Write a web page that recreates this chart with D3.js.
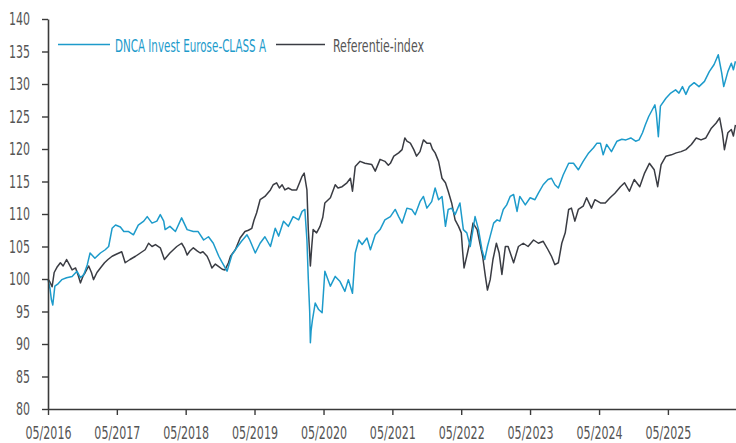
<!DOCTYPE html>
<html>
<head>
<meta charset="utf-8">
<script src="https://cdn.jsdelivr.net/npm/d3@7"></script>
<style>
  html, body { margin: 0; padding: 0; background: #fff; }
  svg text { font-family: "Liberation Sans Narrow", "DejaVu Sans Condensed", "Roboto", sans-serif; }
</style>
</head>
<body>
<svg width="736" height="443"></svg>
<script>
// dates are decimal years
const fundYears = [2016.33,2016.36,2016.38,2016.40,2016.43,2016.48,2016.53,2016.60,2016.68,2016.75,2016.80,2016.85,2016.90,2016.94,2017.01,2017.09,2017.16,2017.21,2017.26,2017.31,2017.38,2017.43,2017.50,2017.57,2017.64,2017.72,2017.77,2017.84,2017.91,2017.96,2018.01,2018.03,2018.10,2018.18,2018.27,2018.35,2018.44,2018.51,2018.59,2018.66,2018.73,2018.81,2018.85,2018.93,2019.00,2019.07,2019.14,2019.22,2019.26,2019.34,2019.41,2019.48,2019.56,2019.63,2019.68,2019.75,2019.82,2019.89,2019.97,2020.02,2020.06,2020.09,2020.11,2020.13,2020.14,2020.15,2020.17,2020.21,2020.26,2020.31,2020.35,2020.43,2020.50,2020.57,2020.64,2020.69,2020.75,2020.79,2020.84,2020.89,2020.96,2021.01,2021.08,2021.15,2021.22,2021.30,2021.37,2021.42,2021.47,2021.54,2021.61,2021.66,2021.73,2021.78,2021.83,2021.90,2021.95,2022.00,2022.05,2022.10,2022.14,2022.19,2022.24,2022.31,2022.36,2022.41,2022.46,2022.50,2022.53,2022.58,2022.63,2022.67,2022.71,2022.75,2022.80,2022.85,2022.89,2022.94,2022.99,2023.04,2023.09,2023.14,2023.18,2023.26,2023.33,2023.40,2023.45,2023.52,2023.59,2023.64,2023.69,2023.74,2023.81,2023.89,2023.96,2024.03,2024.10,2024.18,2024.25,2024.30,2024.35,2024.39,2024.44,2024.51,2024.59,2024.66,2024.72,2024.79,2024.86,2024.91,2024.96,2025.00,2025.05,2025.10,2025.14,2025.16,2025.19,2025.22,2025.30,2025.37,2025.44,2025.49,2025.54,2025.59,2025.64,2025.71,2025.78,2025.86,2025.93,2026.00,2026.06,2026.11,2026.14,2026.20,2026.25,2026.28,2026.31];
const fundValues = [100,98.5,96.8,96,98.9,99.3,99.9,100.2,100.4,101.2,100.2,100.7,102.2,104,103.2,104,104.5,105,107.8,108.3,108,107.3,107.3,106.8,108.3,108.9,109.6,108.6,108.9,109.9,108.9,107.6,108.1,107.3,109.4,107.6,107.3,107.3,106,106.5,105.5,103.5,102.7,101.2,103.7,104.8,105.8,106.8,106,104,105.5,106.5,105,107.8,106.6,108.9,108.1,109.6,109.1,110.4,110.7,106,100,95,90.2,92,93.7,96.3,95.3,94.8,101.2,98.9,100.4,99.6,98.1,99.9,97.8,104,106,105.3,106.3,104.5,106.8,107.6,109.1,109.6,110.7,109.6,108.6,110.9,110.7,109.9,111.9,112.7,110.9,111.9,114,112.2,112.7,108.1,110.7,110.9,109.9,111.7,107.6,107.1,105,107.6,109.6,107.6,104.5,103,105,106.6,108.6,109.1,108.9,110.7,111.4,112.7,113,110.4,112.7,111.4,112.5,112.2,113.2,114.5,115.3,115.5,114.5,114,116,117.8,117.8,116.8,118.1,119.4,120.2,120.9,120.9,119.1,120.7,119.6,121.2,121.5,121.4,121.7,121.2,121.4,122.5,123.7,125,126,126.8,125.5,121.9,126.6,127.8,128.6,129.1,128.6,129.6,128.4,129.6,130.2,129.6,130.4,131.9,133,134.5,131.7,129.6,131.9,133.2,132.2,133.5];

const indexYears = [2016.33,2016.36,2016.39,2016.42,2016.46,2016.51,2016.55,2016.60,2016.64,2016.68,2016.73,2016.77,2016.80,2016.84,2016.87,2016.92,2016.96,2016.99,2017.04,2017.09,2017.15,2017.20,2017.26,2017.32,2017.40,2017.45,2017.52,2017.60,2017.67,2017.74,2017.79,2017.84,2017.89,2017.96,2018.02,2018.06,2018.10,2018.15,2018.20,2018.27,2018.31,2018.35,2018.39,2018.44,2018.50,2018.54,2018.58,2018.64,2018.67,2018.71,2018.76,2018.81,2018.86,2018.90,2018.95,2018.98,2019.05,2019.12,2019.19,2019.24,2019.29,2019.32,2019.36,2019.41,2019.48,2019.56,2019.60,2019.65,2019.69,2019.73,2019.77,2019.82,2019.87,2019.94,2019.99,2020.02,2020.05,2020.09,2020.11,2020.14,2020.16,2020.18,2020.23,2020.28,2020.32,2020.35,2020.43,2020.50,2020.54,2020.60,2020.67,2020.72,2020.75,2020.79,2020.86,2020.93,2021.03,2021.08,2021.15,2021.22,2021.27,2021.30,2021.35,2021.42,2021.47,2021.51,2021.54,2021.59,2021.64,2021.68,2021.73,2021.78,2021.83,2021.88,2021.91,2021.95,2022.00,2022.05,2022.10,2022.14,2022.19,2022.24,2022.29,2022.33,2022.35,2022.37,2022.42,2022.46,2022.50,2022.56,2022.60,2022.64,2022.68,2022.71,2022.75,2022.79,2022.84,2022.88,2022.92,2022.97,2023.01,2023.09,2023.16,2023.23,2023.30,2023.38,2023.45,2023.52,2023.59,2023.64,2023.69,2023.74,2023.79,2023.84,2023.89,2023.93,2023.98,2024.03,2024.10,2024.15,2024.22,2024.27,2024.35,2024.42,2024.49,2024.56,2024.64,2024.70,2024.77,2024.84,2024.92,2024.99,2025.06,2025.13,2025.18,2025.23,2025.30,2025.38,2025.45,2025.52,2025.59,2025.67,2025.74,2025.81,2025.88,2025.96,2026.03,2026.08,2026.12,2026.15,2026.20,2026.25,2026.28,2026.31];
const indexValues = [100,99.5,98.8,101,101.8,102.5,102,103,102.2,101.4,101.7,100.5,99.4,100.5,101,102,101,99.9,101,101.7,102.5,103,103.5,103.8,104.2,102.5,103,103.5,104,104.5,105.5,105,105.3,104.8,103,103.5,104,104.5,105,105.5,104.8,103.7,104.3,104.8,104.3,104,104.2,103.5,102.8,101.7,102.3,101.9,101.5,101.4,102.5,103.5,104.5,106.3,107.3,107.5,107.8,109,110.2,112.2,112.7,113.7,114.5,114.8,114,114.5,113.7,114,113.7,113.7,115,115.8,116.3,113.7,107.6,102,105,107.6,107.1,108.1,109.5,111.7,112.5,114.5,114,114.2,114.8,115.5,113.5,117.3,118.1,117.8,117.6,116.6,118.4,118.1,117.5,117.8,118.9,119.4,119.9,121.7,121.2,120.9,119.9,118.9,119.6,121.4,120.9,120.9,120,119.4,118.1,115.5,114.8,113.5,111.7,109.1,108.1,107.1,104.2,101.7,104,106,108.6,107.6,105.5,103.5,100.4,98.3,99.9,103,105.5,104,100.7,105,105,102.5,105,105.5,105,106,105.5,105.8,104.5,103.5,102.2,102.5,105.5,107.1,110.7,110.9,108.9,110.7,111.2,112.5,110.9,112.2,111.7,111.7,112.5,113.2,114.2,114.8,113.5,115.3,114.2,116.3,117.8,116.8,114.2,117.6,118.9,119.1,119.4,119.6,119.9,120.7,121.7,121.4,121.7,123.2,124,124.8,122.5,119.9,122.5,123,122,123.7];

const seriesNames = ["DNCA Invest Eurose-CLASS A", "Referentie-index"];
const seriesColors = ["#1d9bcb", "#3a3c43"];
const tickYears = [2016,2017,2018,2019,2020,2021,2022,2023,2024,2025];
const yTicks = [80,85,90,95,100,105,110,115,120,125,130,135,140];

function yearToDate(y) {
  const yr = Math.floor(y);
  const start = new Date(yr, 0, 1), end = new Date(yr + 1, 0, 1);
  return new Date(+start + (y - yr) * (end - start));
}

// squeeze text horizontally, the original font is a narrow one
function squeeze(sel, k) {
  sel.each(function () {
    const w = this.getComputedTextLength();
    d3.select(this).attr('textLength', w * k).attr('lengthAdjust', 'spacingAndGlyphs');
  });
}

const svg = d3.select('svg');
const margin = { top: 19, right: 0, bottom: 34, left: 48 };
const width = 736, height = 443;

const x = d3.scaleTime()
  .domain([new Date(2016, 4, 1), yearToDate(2026.318)])
  .range([margin.left, width - margin.right]);
const y = d3.scaleLinear()
  .domain([80, 140])
  .range([height - margin.bottom, margin.top]);

const fund = fundYears.map((t, i) => ({ date: yearToDate(t), value: fundValues[i] }));
const index = indexYears.map((t, i) => ({ date: yearToDate(t), value: indexValues[i] }));

const line = d3.line().x(d => x(d.date)).y(d => y(d.value));

svg.append('path').datum(index)
  .attr('fill', 'none').attr('stroke', seriesColors[1]).attr('stroke-width', 1.5)
  .attr('stroke-linejoin', 'round').attr('d', line);
svg.append('path').datum(fund)
  .attr('fill', 'none').attr('stroke', seriesColors[0]).attr('stroke-width', 1.5)
  .attr('stroke-linejoin', 'round').attr('d', line);

// axes
const xAxis = svg.append('g')
  .attr('transform', `translate(0,${height - margin.bottom})`)
  .call(d3.axisBottom(x)
    .tickValues(tickYears.map(yr => new Date(yr, 4, 1)))
    .tickFormat(d3.timeFormat('%m/%Y'))
    .tickSize(6).tickSizeOuter(0).tickPadding(12));

const yAxis = svg.append('g')
  .attr('transform', `translate(${margin.left},0)`)
  .call(d3.axisLeft(y).tickValues(yTicks).tickSize(6).tickSizeOuter(0).tickPadding(12));

svg.selectAll('.domain').attr('stroke', '#3a3a3a').attr('stroke-width', 1.6);
svg.selectAll('.tick line').attr('stroke', '#3a3a3a').attr('stroke-width', 1.4);
svg.selectAll('.tick text')
  .attr('fill', '#555').style('font-size', '18px')
  .style('font-family', '"Liberation Sans Narrow", "DejaVu Sans Condensed", sans-serif');

const xLabels = xAxis.selectAll('.tick text').style('font-size', '17px');
squeeze(xLabels, 46 / xLabels.node().getComputedTextLength());
const yLabels = yAxis.selectAll('.tick text');
squeeze(yLabels, 21 / yLabels.filter(d => d === 140).node().getComputedTextLength());

// legend
const legend = svg.append('g');
const legendItems = [
  { name: seriesNames[0], color: seriesColors[0], text: '#1d9bcb', x1: 58, x2: 110, tx: 115, w: 151 },
  { name: seriesNames[1], color: seriesColors[1], text: '#555', x1: 276, x2: 325, tx: 333, w: 91 }
];
legendItems.forEach(it => {
  legend.append('line')
    .attr('x1', it.x1).attr('x2', it.x2).attr('y1', 44.5).attr('y2', 44.5)
    .attr('stroke', it.color).attr('stroke-width', 1.6);
  const t = legend.append('text')
    .attr('x', it.tx).attr('y', 51.5)
    .attr('fill', it.text)
    .style('font-size', '17px')
    .text(it.name);
  squeeze(t, it.w / t.node().getComputedTextLength());
});
</script>
</body>
</html>
